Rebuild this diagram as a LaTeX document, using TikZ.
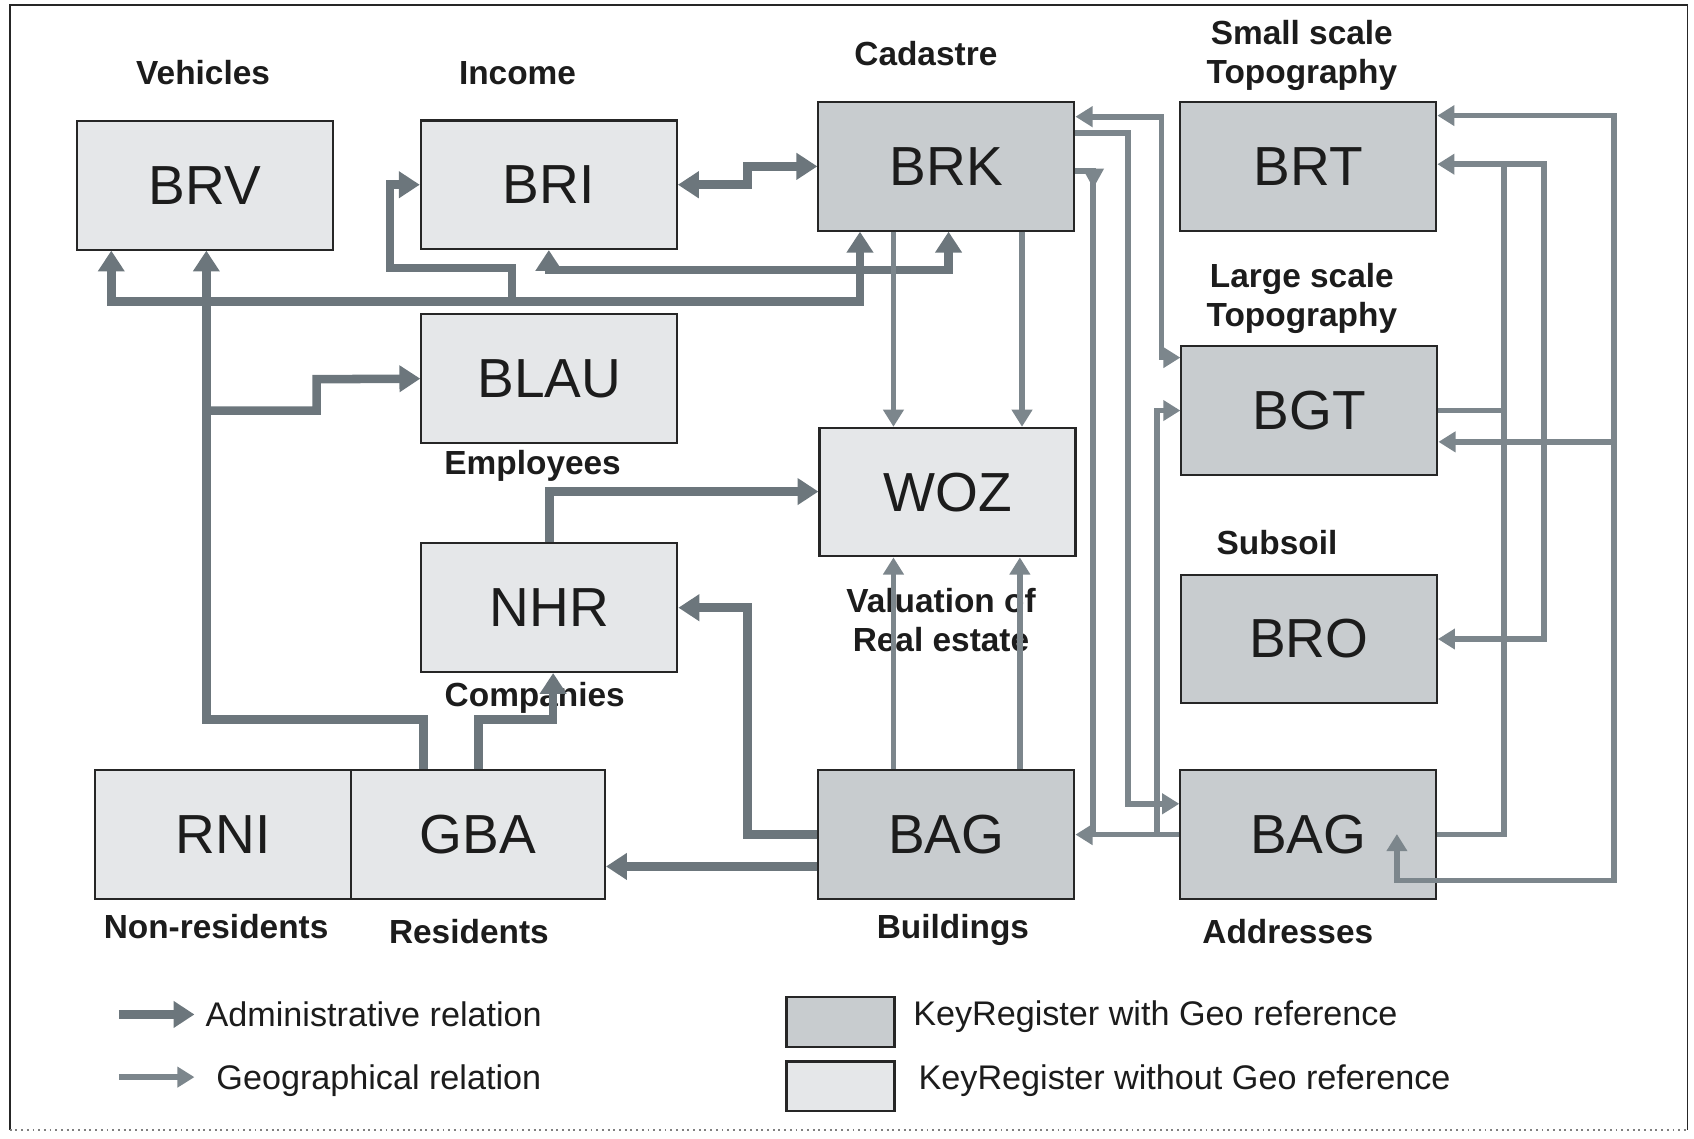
\documentclass[tikz,border=0pt]{standalone}
\usepackage{fontspec}
\setmainfont{Liberation Sans}
\usetikzlibrary{arrows.meta}
\definecolor{boxlight}{RGB}{229,231,233}
\definecolor{boxdark}{RGB}{200,204,207}
\definecolor{admcol}{RGB}{108,118,124}
\definecolor{geocol}{RGB}{124,134,140}
\definecolor{edgecol}{RGB}{38,38,38}
\definecolor{txtcol}{RGB}{28,28,28}
\tikzset{
  admtip/.tip={Triangle[length=11pt,width=13.5pt]},
  geotip/.tip={Triangle[length=9pt,width=10.5pt]},
}
\begin{document}
\begin{tikzpicture}[x=0.02cm,y=-0.02cm,
  reg/.style={draw=edgecol,line width=1.1pt,minimum width=4.74cm,minimum height=2.38cm,inner sep=0pt,text=txtcol,font=\fontsize{29}{34}\selectfont},
  regl/.style={reg,fill=boxlight},
  regd/.style={reg,fill=boxdark},
  lab/.style={text=txtcol,font=\bfseries\fontsize{17.6}{20.4}\selectfont,align=center,inner sep=0pt},
  labb/.style={lab,anchor=base},
  legtxt/.style={text=txtcol,font=\fontsize{18}{21}\selectfont,anchor=base west,inner sep=0pt},
  keybox/.style={draw=edgecol,line width=1.3pt,minimum width=2cm,minimum height=0.92cm,inner sep=0pt},
  adm/.style={draw=admcol,line width=4.5pt},
  geo/.style={draw=geocol,line width=3pt},
]
\useasboundingbox (0,0) rectangle (1568,1054);
% frame
\draw[edgecol,line width=1pt] (9,1046) -- (9,5) -- (1562,5) -- (1562,1046);
\draw[gray,line width=1pt,dotted] (9,1046) -- (1562,1046);

% registers
\node[regl] (BRV) at (189.5,171.5) {BRV};
\node[regl] (BRI) at (508,171) {BRI};
\node[regd] (BRK) at (876,154) {BRK};
\node[regd] (BRT) at (1211,154) {BRT};
\node[regl] (BLAU) at (508.5,350.5) {BLAU};
\node[regl] (WOZ) at (877,455.5) {WOZ};
\node[regd] (BGT) at (1212,380) {BGT};
\node[regl] (NHR) at (508.5,562.5) {NHR};
\node[regd] (BRO) at (1211.5,591.5) {BRO};
\node[regl] (RNI) at (206.5,772.5) {RNI};
\node[regl,minimum width=4.7cm] (GBA) at (442.5,772.5) {GBA};
\node[regd] (BAGb) at (876,772.5) {BAG};
\node[regd] (BAGa) at (1211,772.5) {BAG};

% labels
\node[labb] (tVeh) at (188,78) {Vehicles};
\node[labb] (tInc) at (479,78) {Income};
\node[labb] (tCad) at (857,61) {Cadastre};
\node[lab] (tSma) at (1205,51) {Small scale\\Topography};
\node[lab] (tLar) at (1205,276.5) {Large scale\\Topography};
\node[labb] (tEmp) at (493,439) {Employees};
\node[labb] (tSub) at (1182,513) {Subsoil};
\node[lab] (tVal) at (871,574) {Valuation of\\Real estate};
\node[labb] (tCom) at (495,654) {Companies};
\node[labb] (tNon) at (200,869) {Non-residents};
\node[labb] (tRes) at (434,873) {Residents};
\node[labb] (tBui) at (882,869) {Buildings};
\node[labb] (tAdd) at (1192,873) {Addresses};

% junction coordinates
\coordinate (jBus) at (474,279);
\coordinate (jBlau) at (191,380);
\coordinate (jBag) at (1071,772.5);
\coordinate (jTop) at (1392,152);
\coordinate (jOut) at (1494,409);

% administrative relations
\draw[adm,admtip-admtip] (BRI.east) -- (692,171) -- (692,154) -- (BRK.west);
\draw[adm,admtip-admtip] (BRV.south -| 103,0) -- (103,279) -- (796,279) -- (BRK.south -| 796,0);
\draw[adm,-admtip] (jBus) -- (474,248) -- (361,248) -- (361,171) -- (BRI.west);
\draw[adm,admtip-admtip] (BRI.south -| 508,0) -- (508,250) -- (878,250) -- (BRK.south -| 878,0);
\draw[adm,-admtip] (GBA.north -| 392,0) -- (392,666) -- (191,666) -- (BRV.south -| 191,0);
\draw[adm,-admtip] (jBlau) -- (293,380) -- (293,351) -- (BLAU.west);
\draw[adm,-admtip] (GBA.north -| 443,0) -- (443,666) -- (512,666) -- (NHR.south -| 512,0);
\draw[adm,-admtip] (NHR.north) -- (508.5,455) -- (WOZ.west |- 0,455);
\draw[adm,-admtip] (BAGb.west) -- (692,772.5) -- (692,562.5) -- (NHR.east);
\draw[adm,-admtip] (BAGb.west |- 0,802) -- (GBA.east |- 0,802);

% geographical relations
\draw[geo,-geotip] (BRK.south -| 827,0) -- (WOZ.north -| 827,0);
\draw[geo,-geotip] (BRK.south -| 946,0) -- (WOZ.north -| 946,0);
\draw[geo,-geotip] (BAGb.north -| 827,0) -- (WOZ.south -| 827,0);
\draw[geo,-geotip] (BAGb.north -| 944,0) -- (WOZ.south -| 944,0);
\draw[geo,geotip-geotip] (BRK.east |- 0,108) -- (1075,108) -- (1075,331) -- (BGT.west |- 0,331);
\draw[geo,-geotip] (BRK.east |- 0,123) -- (1044,123) -- (1044,744) -- (BAGa.west |- 0,744);
\draw[geo,-geotip] (BAGa.west) -- (BAGb.east);
\draw[geo] (BRK.east |- 0,158) -- (1012,158) -- (1012,772.5);
\fill[geocol] (1002,156) -- (1022,156) -- (1012,174) -- cycle;
\draw[geo,-geotip] (jBag) -- (1071,380) -- (BGT.west);
\draw[geo,-geotip] (BAGa.east) -- (1392,772.5) -- (1392,152) -- (BRT.east |- 0,152);
\draw[geo] (BGT.east) -- (1392,380);
\draw[geo,-geotip] (jTop) -- (1429,152) -- (1429,591.5) -- (BRO.east);
\draw[geo,geotip-geotip] (BRT.east |- 0,107) -- (1494,107) -- (1494,815) -- (1293,815) -- (1293,772);
\draw[geo,-geotip] (jOut) -- (BGT.east |- 0,409);

% legend
\coordinate (la1) at (110,939);
\coordinate (la2) at (180,939);
\coordinate (lg1) at (110,997);
\coordinate (lg2) at (180,997);
\draw[adm,-admtip] (la1) -- (la2);
\draw[geo,-geotip] (lg1) -- (lg2);
\node[legtxt] (lAdm) at (190,950) {Administrative relation};
\node[legtxt] (lGeo) at (200,1008) {Geographical relation};
\node[keybox,fill=boxdark] (kDark) at (778,946) {};
\node[keybox,fill=boxlight] (kLight) at (778,1005.5) {};
\node[legtxt] (lWith) at (845,949.5) {KeyRegister with Geo reference};
\node[legtxt] (lWithout) at (850,1008.5) {KeyRegister without Geo reference};
\end{tikzpicture}
\end{document}
